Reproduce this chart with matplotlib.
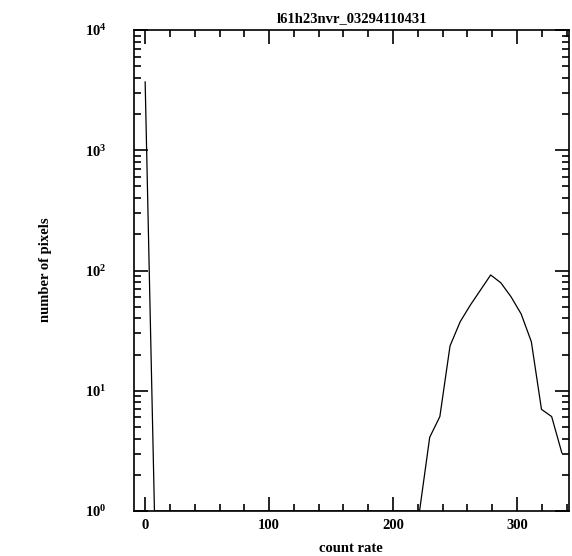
import matplotlib
matplotlib.use("Agg")
import matplotlib.pyplot as plt
from matplotlib.ticker import FixedLocator, LogLocator, NullFormatter

plt.rcParams['font.family'] = ['Liberation Serif', 'DejaVu Serif']
plt.rcParams['font.weight'] = 'bold'
plt.rcParams['mathtext.fontset'] = 'custom'
plt.rcParams['mathtext.rm'] = 'Liberation Serif:bold'
plt.rcParams['mathtext.bf'] = 'Liberation Serif:bold'

title = "l61h23nvr_03294110431"
# count rate bins and number of pixels (zero bins left out, log scale)
rate = [0, 7.5, 221.4, 229.6, 237.8, 246.0, 254.2, 262.4, 270.6, 278.8,
        287.0, 295.2, 303.4, 311.6, 319.8, 328.0, 336.2]
npix = [3700, 1, 1, 4.1, 6.1, 23.6, 37.5, 51.6, 68.8, 91.8,
        79, 60.5, 43.5, 25.6, 7.0, 6.1, 3.05]
xticks = [0, 100, 200, 300]
yticks = [1, 10, 100, 1000, 10000]
ylabels = [r'$\mathbf{10^{0}}$', r'$\mathbf{10^{1}}$', r'$\mathbf{10^{2}}$',
           r'$\mathbf{10^{3}}$', r'$\mathbf{10^{4}}$']

fig = plt.figure(figsize=(5.72, 5.56), dpi=100)
ax = fig.add_axes([134/572, 1-511/556, 435/572, 481/556])

ax.plot(rate, npix, color="black", linewidth=0.9)
ax.set_yscale("log")
ax.set_xlim(-9, 342)
ax.set_ylim(1, 10000)

ax.xaxis.set_major_locator(FixedLocator(xticks))
ax.xaxis.set_minor_locator(FixedLocator(range(0, 341, 20)))
ax.set_xticklabels([str(t) for t in xticks])
ax.yaxis.set_major_locator(FixedLocator(yticks))
ax.set_yticklabels(ylabels)
ax.yaxis.set_minor_locator(LogLocator(base=10, subs=range(2, 10)))
ax.yaxis.set_minor_formatter(NullFormatter())

ax.tick_params(which="both", direction="in", top=True, right=True, labelsize=10.5, width=1.2)
ax.tick_params(which="major", length=10)
ax.tick_params(axis="x", which="major", pad=6)
ax.tick_params(axis="y", which="major", pad=20)
ax.tick_params(which="minor", length=5)
for s in ax.spines.values():
    s.set_linewidth(1.2)

ax.set_title(title, fontsize=10.5, fontweight="bold", pad=6)
fig.text(351/572, 1-548/556, "count rate", fontsize=10.5,
         fontweight="bold", ha="center", va="center")
fig.text(45/572, 1-270/556, "number of pixels", rotation=90, fontsize=10.5,
         fontweight="bold", ha="center", va="center")

fig.savefig("out.png", dpi=100)
